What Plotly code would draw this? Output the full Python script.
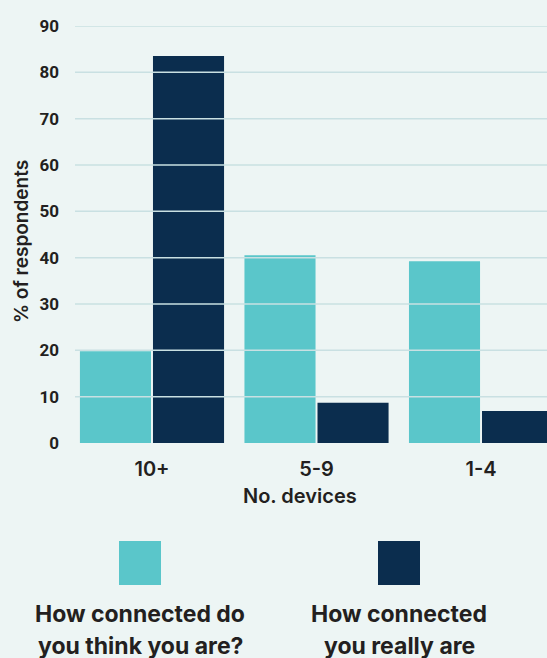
import plotly.graph_objects as go

categories = ["10+", "5-9", "1-4"]
think_values = [19.8, 40.5, 39.2]
really_values = [83.5, 8.7, 6.9]
series_names = ["How connected do you think you are?", "How connected you really are"]
legend_lines = [["How connected do", "you think you are?"], ["How connected", "you really are"]]
y_ticks = [0, 10, 20, 30, 40, 50, 60, 70, 80, 90]

TEAL = "#5ac6ca"
NAVY = "#0b2d4e"
BG = "#edf5f4"
GRID = "#c9e0e2"
TEXT = "#231f20"

fig = go.Figure()
fig.add_trace(go.Bar(x=categories, y=think_values, name=series_names[0], marker=dict(color=TEAL, line=dict(width=0))))
fig.add_trace(go.Bar(x=categories, y=really_values, name=series_names[1], marker=dict(color=NAVY, line=dict(width=0))))

for v in y_ticks[1:]:
    fig.add_hline(y=v, line=dict(color=GRID, width=1.5), layer="above")

W, H = 547, 658
ml, mr, mt, mb = 75, 0, 26, 215
pw, ph = W - ml - mr, H - mt - mb

fig.update_layout(
    width=W, height=H,
    margin=dict(l=ml, r=mr, t=mt, b=mb, pad=0),
    paper_bgcolor=BG, plot_bgcolor=BG,
    barmode="group", bargap=0.112, bargroupgap=0.027,
    showlegend=False,
    font=dict(family="Inter, Lato, sans-serif", color=TEXT),
    xaxis=dict(
        type="category", range=[-0.468, 2.401], showgrid=False, zeroline=False,
        showline=False, ticks="", tickfont=dict(size=20, family="Inter", weight=600, color=TEXT),
        ticklabelstandoff=12,
    ),
    yaxis=dict(
        range=[0, 90], tickvals=y_ticks, showgrid=False, zeroline=False, showline=False,
        ticks="", tickfont=dict(size=17, family="Roboto", weight=700, color=TEXT),
        ticklabelstandoff=15,
    ),
)

# axis titles placed like the reference
fig.add_annotation(xref="paper", yref="paper", x=(300 - ml) / pw, y=-(496 - (H - mb)) / ph,
                   text="No. devices", showarrow=False, xanchor="center", yanchor="middle",
                   font=dict(size=20, family="Inter", weight=600, color=TEXT))
fig.add_annotation(xref="paper", yref="paper", x=(21 - ml) / pw, y=((H - mb) - 242) / ph,
                   text="% of respondents", showarrow=False, textangle=-90,
                   xanchor="center", yanchor="middle",
                   font=dict(size=19, family="Inter", weight=600, color=TEXT))

colors = [TEAL, NAVY]
centers_px = [140, 399]
for i, c in enumerate(colors):
    cx = centers_px[i]
    fig.add_shape(type="rect", xref="paper", yref="paper",
                  x0=(cx - 21 - ml) / pw, x1=(cx + 21 - ml) / pw,
                  y0=-(585 - (H - mb)) / ph, y1=-(541 - (H - mb)) / ph,
                  fillcolor=c, line=dict(width=0))
    for j, line in enumerate(legend_lines[i]):
        ypx = 614 + 32 * j
        fig.add_annotation(xref="paper", yref="paper",
                           x=(cx - ml) / pw, y=-(ypx - (H - mb)) / ph,
                           text=line, showarrow=False, xanchor="center", yanchor="middle",
                           font=dict(size=23, family="Inter", weight=700, color=TEXT))

fig.write_html("out.html")
